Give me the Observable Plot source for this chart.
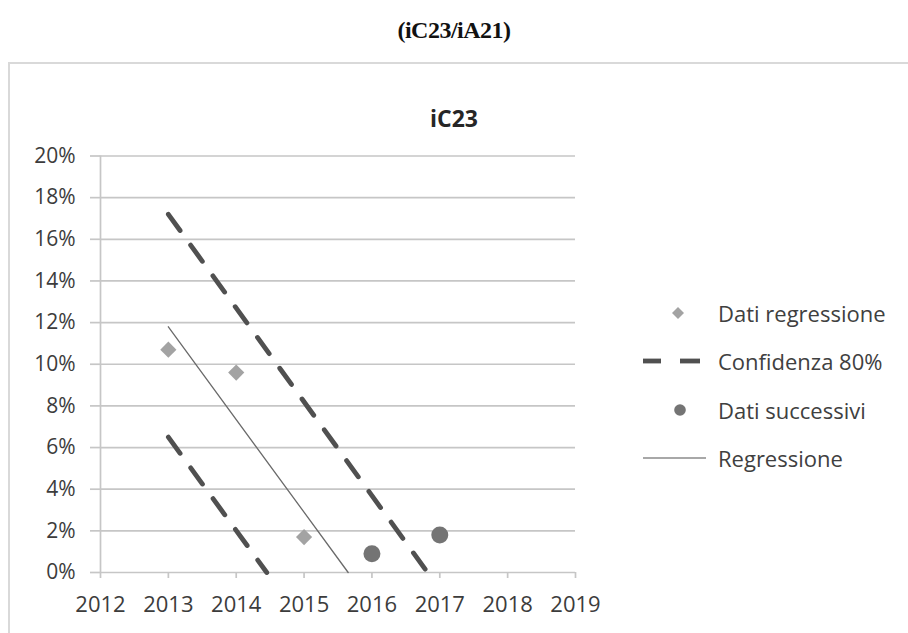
<!DOCTYPE html>
<html>
<head>
<meta charset="utf-8">
<script src="https://cdn.jsdelivr.net/npm/d3@7"></script>
<script src="https://cdn.jsdelivr.net/npm/@observablehq/plot@0.6"></script>
<style>
  body { margin: 0; background: #fff; }
  #page { position: relative; width: 908px; height: 633px; overflow: hidden; font-family: "Open Sans", "Noto Sans", sans-serif; color: #404040; }
  #frame { position: absolute; left: 8px; top: 62px; width: 1000px; height: 700px; border-left: 2px solid #d9d9d9; border-top: 2px solid #d9d9d9; }
  #title { position: absolute; left: 0; width: 908px; top: 17px; text-align: center; font: bold 24px "Liberation Serif", serif; color: #111; letter-spacing: -0.5px; }
  #chartTitle { position: absolute; left: 0; width: 908px; top: 102px; text-align: center; font: bold 23px "Open Sans", sans-serif; color: #262626; }
  #chart { position: absolute; left: 0; top: 0; }
  .item { position: absolute; left: 640px; height: 30px; display: flex; align-items: center; }
  .item svg { width: 70px; height: 30px; flex: none; }
  .item span { margin-left: 8px; font-size: 22px; color: #404040; white-space: nowrap; }
</style>
</head>
<body>
<div id="page">
  <div id="frame"></div>
  <div id="title">(iC23/iA21)</div>
  <div id="chartTitle">iC23</div>
  <div id="chart"></div>
  <div id="legend"></div>
</div>
<script>
// Axis ticks
const years = [2012, 2013, 2014, 2015, 2016, 2017, 2018, 2019];
const yTicks = [0, 2, 4, 6, 8, 10, 12, 14, 16, 18, 20];

// Observed values used in the regression (%)
const regYears = [2013, 2014, 2015];
const regValues = [10.7, 9.6, 1.7];

// Later observations (%)
const nextYears = [2016, 2017];
const nextValues = [0.9, 1.8];

// Regression line and 80% confidence bounds, ending where they reach 0%
const fitYears = [2013, 2015.65];
const fitValues = [11.8, 0];
const upperYears = [2013, 2016.82];
const upperValues = [17.2, 0];
const lowerYears = [2013, 2014.45];
const lowerValues = [6.5, 0];

// Legend entries
const legendLabels = ["Dati regressione", "Confidenza 80%", "Dati successivi", "Regressione"];

const zip = (xs, ys) => xs.map((x, i) => ({x, y: ys[i]}));
const regression = zip(regYears, regValues);
const later = zip(nextYears, nextValues);
const fit = zip(fitYears, fitValues);
const upper = zip(upperYears, upperValues);
const lower = zip(lowerYears, lowerValues);

const gridColor = "#c6c6c6";
const dashColor = "#505050";
const diamondColor = "#a3a3a3";
const circleColor = "#747474";
const fitColor = "#6a6a6a";
const labelColor = "#3c3c3c";

const chart = Plot.plot({
  width: 908,
  height: 633,
  marginLeft: 100,
  marginRight: 333,
  marginTop: 155.5,
  marginBottom: 61,
  style: {fontFamily: "'Open Sans', sans-serif", fontSize: "21px", color: labelColor, background: "transparent", overflow: "visible"},
  x: {domain: [2012, 2019]},
  y: {domain: [0, 20]},
  marks: [
    Plot.gridY(yTicks, {stroke: gridColor, strokeOpacity: 1, strokeWidth: 1.7}),
    Plot.axisY(yTicks, {tickSize: 10, tickPadding: 15, stroke: gridColor, strokeOpacity: 1, strokeWidth: 1.7, tickFormat: d => d + "%", label: null, fill: labelColor}),
    Plot.ruleX([2012], {stroke: gridColor, strokeWidth: 1.7}),
    Plot.axisX(years, {tickSize: 6, tickPadding: 18, stroke: gridColor, strokeOpacity: 1, strokeWidth: 1.7, tickFormat: d => String(d), label: null, fill: labelColor, fontSize: 22}),
    Plot.line(upper, {x: "x", y: "y", stroke: dashColor, strokeWidth: 4.8, strokeDasharray: "20,18"}),
    Plot.line(lower, {x: "x", y: "y", stroke: dashColor, strokeWidth: 4.8, strokeDasharray: "20,18"}),
    Plot.line(fit, {x: "x", y: "y", stroke: fitColor, strokeWidth: 1.3}),
    Plot.dot(regression, {x: "x", y: "y", symbol: "diamond2", r: 7.3, fill: diamondColor, stroke: null}),
    Plot.dot(later, {x: "x", y: "y", symbol: "circle", r: 8.5, fill: circleColor, stroke: null})
  ]
});
document.getElementById("chart").appendChild(chart);

// Legend swatches
const swatches = [
  `<polygon points="38,9 44,15 38,21 32,15" fill="${diamondColor}"/>`,
  `<line x1="3" y1="15" x2="21" y2="15" stroke="${dashColor}" stroke-width="4.8"/><line x1="40" y1="15" x2="60" y2="15" stroke="${dashColor}" stroke-width="4.8"/>`,
  `<circle cx="40" cy="15" r="5.8" fill="${circleColor}"/>`,
  `<line x1="3" y1="15" x2="66" y2="15" stroke="#a8a8a8" stroke-width="2.2"/>`
];
const legendTops = [298, 346, 395, 443];
const legend = document.getElementById("legend");
legendLabels.forEach((label, i) => {
  const item = document.createElement("div");
  item.className = "item";
  item.style.top = legendTops[i] + "px";
  item.innerHTML = `<svg viewBox="0 0 70 30">${swatches[i]}</svg><span>${label}</span>`;
  legend.appendChild(item);
});
</script>
</body>
</html>
